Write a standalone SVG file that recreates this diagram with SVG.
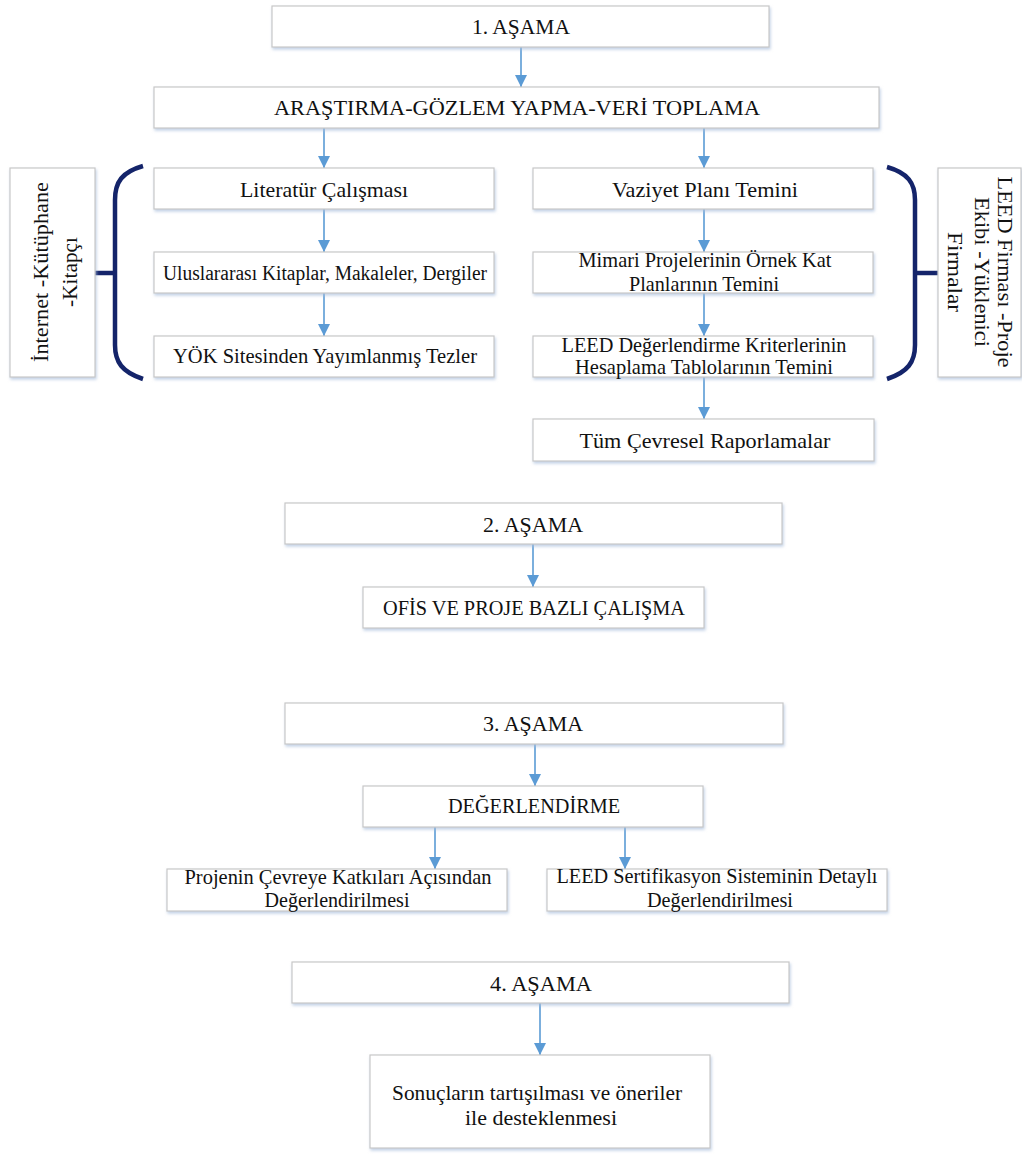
<svg xmlns="http://www.w3.org/2000/svg" width="1022" height="1155" viewBox="0 0 1022 1155">
<defs>
<style>
.box{fill:#ffffff;stroke:#c8c8c8;stroke-width:1.2;filter:url(#sh)}
.t{font-family:"Liberation Serif","Times New Roman",serif;font-size:21px;fill:#111;text-anchor:middle}
.s{font-size:20px}
.con{stroke:#5b9bd5;stroke-width:1.6;fill:none;marker-end:url(#ah)}
.br{stroke:#14246a;stroke-width:4.5;fill:none;stroke-linecap:butt}
</style>
<filter id="sh" x="-5%" y="-20%" width="110%" height="150%">
<feDropShadow dx="1" dy="2" stdDeviation="1.5" flood-color="#a9bedb" flood-opacity="0.7"/>
</filter>
<marker id="ah" markerUnits="userSpaceOnUse" markerWidth="12" markerHeight="12" refX="12" refY="6" orient="auto">
<path d="M0,0 L12,6 L0,12 z" fill="#5b9bd5"/>
</marker>
</defs>
<rect width="1022" height="1155" fill="#ffffff"/>

<g id="connectors">
<line class="con" x1="521" y1="47" x2="521" y2="87"/>
<line class="con" x1="324" y1="128" x2="324" y2="168"/>
<line class="con" x1="704" y1="128" x2="704" y2="168"/>
<line class="con" x1="324" y1="209" x2="324" y2="252"/>
<line class="con" x1="324" y1="293" x2="324" y2="336"/>
<line class="con" x1="704" y1="209" x2="704" y2="252"/>
<line class="con" x1="704" y1="293" x2="704" y2="336"/>
<line class="con" x1="704" y1="377" x2="704" y2="419"/>
<line class="con" x1="533" y1="544" x2="533" y2="587"/>
<line class="con" x1="535" y1="744" x2="535" y2="786"/>
<line class="con" x1="435" y1="827" x2="435" y2="869"/>
<line class="con" x1="625" y1="827" x2="625" y2="869"/>
<line class="con" x1="540" y1="1003" x2="540" y2="1055"/>
</g>

<g id="brackets">
<path class="br" d="M143,166 C122,172 115,182 115,200 L115,345 C115,362 122,372 143,379"/>
<path class="br" d="M95,273 H115"/>
<path class="br" d="M887,167 C908,173 915,183 915,200 L915,345 C915,362 908,372 887,379"/>
<path class="br" d="M915,273 H938"/>
</g>

<g id="asama1">
<rect class="box" x="272" y="6" width="497" height="41"/>
<text class="t" x="521" y="34" textLength="98" lengthAdjust="spacingAndGlyphs">1. AŞAMA</text>
</g>
<g id="arastirma">
<rect class="box" x="154" y="87" width="725" height="41"/>
<text class="t" x="517" y="115" textLength="486" lengthAdjust="spacingAndGlyphs">ARAŞTIRMA-GÖZLEM YAPMA-VERİ TOPLAMA</text>
</g>
<g id="literatur">
<rect class="box" x="154" y="168" width="340" height="41"/>
<text class="t" x="324" y="197" textLength="168" lengthAdjust="spacingAndGlyphs">Literatür Çalışması</text>
</g>
<g id="uluslararasi">
<rect class="box" x="154" y="252" width="340" height="41"/>
<text class="t s" x="325" y="280" textLength="324" lengthAdjust="spacingAndGlyphs">Uluslararası Kitaplar, Makaleler, Dergiler</text>
</g>
<g id="yok">
<rect class="box" x="154" y="336" width="340" height="41"/>
<text class="t" x="325" y="363" textLength="304" lengthAdjust="spacingAndGlyphs">YÖK Sitesinden Yayımlanmış Tezler</text>
</g>
<g id="kaynak-sol">
<rect class="box" x="10" y="168" width="85" height="209"/>
<g transform="translate(0,272) rotate(-90)">
<text class="t" x="0" y="48" textLength="180" lengthAdjust="spacingAndGlyphs">İnternet -Kütüphane</text>
<text class="t" x="0" y="77" textLength="70" lengthAdjust="spacingAndGlyphs">-Kitapçı</text>
</g>
</g>
<g id="vaziyet">
<rect class="box" x="533" y="168" width="340" height="41"/>
<text class="t" x="705" y="197" textLength="186" lengthAdjust="spacingAndGlyphs">Vaziyet Planı Temini</text>
</g>
<g id="mimari">
<rect class="box" x="533" y="252" width="340" height="41"/>
<text class="t" x="705" y="267" textLength="253" lengthAdjust="spacingAndGlyphs">Mimari Projelerinin Örnek Kat</text>
<text class="t" x="704" y="291" textLength="150" lengthAdjust="spacingAndGlyphs">Planlarının Temini</text>
</g>
<g id="leed-kriter">
<rect class="box" x="533" y="336" width="340" height="41"/>
<text class="t" x="704" y="352" textLength="285" lengthAdjust="spacingAndGlyphs">LEED Değerlendirme Kriterlerinin</text>
<text class="t" x="704" y="374" textLength="258" lengthAdjust="spacingAndGlyphs">Hesaplama Tablolarının Temini</text>
</g>
<g id="cevresel">
<rect class="box" x="533" y="419" width="341" height="42"/>
<text class="t" x="705" y="448" textLength="251" lengthAdjust="spacingAndGlyphs">Tüm Çevresel Raporlamalar</text>
</g>
<g id="kaynak-sag">
<rect class="box" x="938" y="168" width="83" height="209"/>
<g transform="translate(998,272) rotate(90)">
<text class="t" x="0" y="0" textLength="191" lengthAdjust="spacingAndGlyphs">LEED Firması -Proje</text>
<text class="t" x="0" y="23" textLength="150" lengthAdjust="spacingAndGlyphs">Ekibi -Yüklenici</text>
<text class="t" x="0" y="50" textLength="80" lengthAdjust="spacingAndGlyphs">Firmalar</text>
</g>
</g>
<g id="asama2">
<rect class="box" x="285" y="503" width="497" height="41"/>
<text class="t" x="533" y="532" textLength="100" lengthAdjust="spacingAndGlyphs">2. AŞAMA</text>
</g>
<g id="ofis">
<rect class="box" x="363" y="587" width="341" height="41"/>
<text class="t" x="534" y="615" textLength="302" lengthAdjust="spacingAndGlyphs">OFİS VE PROJE BAZLI ÇALIŞMA</text>
</g>
<g id="asama3">
<rect class="box" x="285" y="703" width="498" height="41"/>
<text class="t" x="533" y="731" textLength="100" lengthAdjust="spacingAndGlyphs">3. AŞAMA</text>
</g>
<g id="degerlendirme">
<rect class="box" x="363" y="786" width="340" height="41"/>
<text class="t" x="534" y="813" textLength="172" lengthAdjust="spacingAndGlyphs">DEĞERLENDİRME</text>
</g>
<g id="cevre-katki">
<rect class="box" x="167" y="869" width="340" height="42"/>
<text class="t" x="338" y="884" textLength="307" lengthAdjust="spacingAndGlyphs">Projenin Çevreye Katkıları Açısından</text>
<text class="t" x="337" y="907" textLength="145" lengthAdjust="spacingAndGlyphs">Değerlendirilmesi</text>
</g>
<g id="leed-sertifika">
<rect class="box" x="547" y="869" width="340" height="42"/>
<text class="t" x="717" y="883" textLength="321" lengthAdjust="spacingAndGlyphs">LEED Sertifikasyon Sisteminin Detaylı</text>
<text class="t" x="720" y="907" textLength="146" lengthAdjust="spacingAndGlyphs">Değerlendirilmesi</text>
</g>
<g id="asama4">
<rect class="box" x="292" y="962" width="497" height="41"/>
<text class="t" x="541" y="991" textLength="102" lengthAdjust="spacingAndGlyphs">4. AŞAMA</text>
</g>
<g id="sonuc">
<rect class="box" x="370" y="1055" width="340" height="93"/>
<text class="t" x="537" y="1100" textLength="290" lengthAdjust="spacingAndGlyphs">Sonuçların tartışılması ve öneriler</text>
<text class="t" x="541" y="1125" textLength="152" lengthAdjust="spacingAndGlyphs">ile desteklenmesi</text>
</g>
</svg>
